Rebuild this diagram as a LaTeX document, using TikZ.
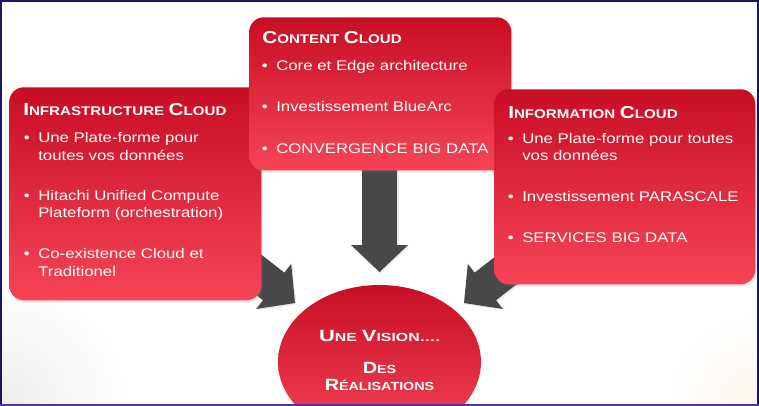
\documentclass[tikz,border=0pt]{standalone}
\usepackage{fontspec}
\setmainfont[FakeStretch=1.2]{Liberation Sans}
\newfontfamily\ellA[FakeStretch=1.35]{Liberation Sans}
\newfontfamily\ellB[FakeStretch=1.22]{Liberation Sans}
\usetikzlibrary{calc,shadows,shapes.geometric}
\definecolor{redtop}{RGB}{200,14,36}
\definecolor{redbot}{RGB}{246,68,86}
\definecolor{arrowgray}{RGB}{72,72,74}
\definecolor{framecol}{RGB}{22,22,100}
\definecolor{framebot}{RGB}{80,50,170}
\newcommand\bsx[4]{{\fontsize{#1}{#1}\selectfont #3}{\fontsize{#2}{#2}\selectfont #4}}
\newcommand\bs[2]{\bsx{13}{9.45}{#1}{#2}}
\newcommand\blockarrow[2]{% #1 tail, #2 tip
  \coordinate (#2-b) at ($(#2)!20.25pt!(#1)$);
  \fill[arrowfill] ($(#1)!13.1pt!90:(#2)$) -- ($(#2-b)!13.1pt!90:(#2)$) -- ($(#2-b)!21.4pt!90:(#2)$) -- (#2) -- ($(#2-b)!21.4pt!-90:(#2)$) -- ($(#2-b)!13.1pt!-90:(#2)$) -- ($(#1)!13.1pt!-90:(#2)$) -- cycle;}
\newcommand\bul[1]{\node[txt, anchor=base east] (#1-bullet) at ($(#1.base west)+(-8,0)$) {\textbullet};}
\begin{document}
\begin{tikzpicture}[x=0.75pt,y=-0.75pt,
  panel/.style={rounded corners=11pt, top color=redtop, bottom color=redbot, draw=none,
    anchor=north west, inner sep=0pt,
    drop shadow={opacity=0.22, shadow xshift=1pt, shadow yshift=-1.5pt}},
  arrowfill/.style={fill=arrowgray, drop shadow={opacity=0.18, shadow xshift=1pt, shadow yshift=-1pt}},
  txt/.style={text=white, inner sep=0pt, anchor=base west, font=\fontsize{10.5}{12}\selectfont},
  title/.style={text=white, inner sep=0pt, anchor=base west, font=\bfseries},
  etxt/.style={text=white, inner sep=0pt, anchor=base}]
\useasboundingbox (0,0) rectangle (759,406);
\fill[white] (0,0) rectangle (759,406);
\begin{scope}
\clip (0,0) rectangle (759,406);
\shade[inner color=black!7, outer color=white] (0,406) circle (95pt);
\shade[inner color=orange!7, outer color=white] (759,406) circle (70pt);
\end{scope}
% arrows
\coordinate (tailL) at (232,254);
\coordinate (tipL) at (295,303);
\coordinate (tailR) at (527,254);
\coordinate (tipR) at (464,303);
\coordinate (tailC) at (379.5,150);
\coordinate (tipC) at (379.5,272);
\blockarrow{tailL}{tipL}
\blockarrow{tailR}{tipR}
\blockarrow{tailC}{tipC}
% panels
\node[panel, minimum width=189pt, minimum height=159.75pt] (infra) at (9,87) {};
\node[panel, minimum width=196.5pt, minimum height=114.75pt] (content) at (249,17) {};
\node[panel, minimum width=195.75pt, minimum height=146.25pt] (info) at (494,89) {};
\begin{scope}
\clip (0,0) rectangle (759,404);
\node[ellipse, top color=redtop, bottom color=redbot, draw=none, inner sep=0pt,
  minimum width=152.25pt, minimum height=115.5pt] (vision) at (379.5,362) {};
\end{scope}
% infrastructure
\node[title] (tinfra) at (23,115.7) {\bs{I}{NFRASTRUCTURE} \bs{C}{LOUD}};
\node[txt] (l1) at (38,142.5) {Une Plate-forme pour};
\node[txt] (l1b) at (38,160) {toutes vos données};
\node[txt] (l2) at (38,200.5) {Hitachi Unified Compute};
\node[txt] (l2b) at (38,217.5) {Plateform (orchestration)};
\node[txt] (l3) at (38,258.5) {Co-existence Cloud et};
\node[txt] (l3b) at (38,276) {Traditionel};
\bul{l1}\bul{l2}\bul{l3}
% content
\node[title] (tcontent) at (262,43.3) {\bs{C}{ONTENT} \bs{C}{LOUD}};
\node[txt] (c1) at (276,70.5) {Core et Edge architecture};
\node[txt] (c2) at (276,112) {Investissement BlueArc};
\node[txt] (c3) at (276,153.5) {CONVERGENCE BIG DATA};
\bul{c1}\bul{c2}\bul{c3}
% information
\node[title] (tinfo) at (508,118.3) {\bs{I}{NFORMATION} \bs{C}{LOUD}};
\node[txt] (i1) at (522,143.3) {Une Plate-forme pour toutes};
\node[txt] (i1b) at (522,161) {vos données};
\node[txt] (i2) at (522,201.7) {Investissement PARASCALE};
\node[txt] (i3) at (522,242.7) {SERVICES BIG DATA};
\bul{i1}\bul{i2}\bul{i3}
% vision
\node[etxt] (v1) at (379.5,341.7) {\ellA\bfseries\bsx{12.2}{8.8}{U}{NE} \bsx{12.2}{8.8}{V}{ISION….}};
\node[etxt] (v2) at (379.5,373) {\ellB\bfseries\bsx{12.2}{8.8}{D}{ES}};
\node[etxt] (v3) at (379.5,390) {\ellB\bfseries\bsx{12.2}{8.8}{R}{ÉALISATIONS}};
% frame
\draw[framecol, line width=1.5pt] (1,1) rectangle (758,405);
\draw[framebot, line width=1.2pt] (0,404.8) -- (759,404.8);
\end{tikzpicture}
\end{document}
